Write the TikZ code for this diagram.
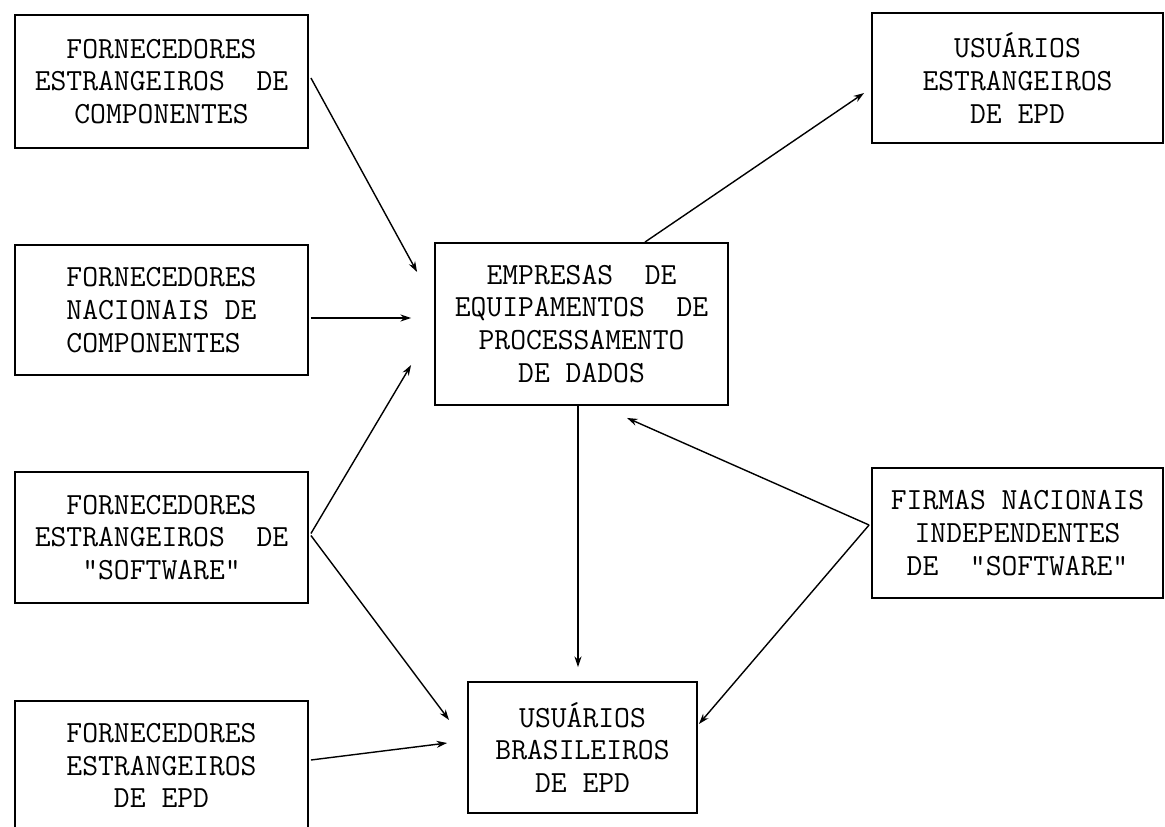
\documentclass[tikz,border=0pt]{standalone}
\usetikzlibrary{arrows.meta,calc}
\begin{document}
\begin{tikzpicture}[x=0.02cm,y=-0.02cm,
  box/.style={draw,line width=1.1pt,inner sep=0pt,align=center,
    font=\ttfamily\fontsize{17.5}{18.7}\selectfont},
  conn/.style={line width=0.8pt,-{Stealth[length=6pt,width=4pt]}}]
\useasboundingbox (0,0) rectangle (1165,827);
\begin{scope}
\clip (0,0) rectangle (1165,827);
\node[box,minimum width=5.86cm,minimum height=2.66cm] (fce) at (161.5,81.5)
  {FORNECEDORES\\ESTRANGEIROS\ \ DE\\COMPONENTES};
\node[box,align=left,minimum width=5.86cm,minimum height=2.6cm] (fnc) at (161.5,310)
  {FORNECEDORES\\NACIONAIS DE\\COMPONENTES};
\node[box,minimum width=5.86cm,minimum height=2.62cm] (fes) at (161.5,537.5)
  {FORNECEDORES\\ESTRANGEIROS\ \ DE\\"SOFTWARE"};
\node[box,minimum width=5.86cm,minimum height=2.58cm] (fep) at (161.5,765.5)
  {FORNECEDORES\\ESTRANGEIROS\\DE EPD};
\node[box,minimum width=5.86cm,minimum height=3.24cm] (emp) at (581.5,324)
  {EMPRESAS\ \ DE\\EQUIPAMENTOS\ \ DE\\PROCESSAMENTO\\DE DADOS};
\node[box,minimum width=5.82cm,minimum height=2.6cm] (ue) at (1017.5,78)
  {USUÁRIOS\\ESTRANGEIROS\\DE EPD};
\node[box,minimum width=5.82cm,minimum height=2.6cm] (fir) at (1017.5,533)
  {FIRMAS NACIONAIS\\INDEPENDENTES\\DE\ \ "SOFTWARE"};
\node[box,minimum width=4.58cm,minimum height=2.62cm] (ub) at (582.5,747.5)
  {USUÁRIOS\\BRASILEIROS\\DE EPD};
\end{scope}
\draw[conn] ($(fce.east)+(2,-3.5)$) -- ($(emp.west)+(-17,-52)$);
\draw[conn] ($(fnc.east)+(2,8)$) -- ($(emp.west)+(-23,-6)$);
\draw[conn] ($(fes.east)+(2,-4)$) -- ($(emp.west)+(-23,41)$);
\draw[conn] ($(fes.east)+(2,-2)$) -- ($(ub.west)+(-18,-27.5)$);
\draw[conn] ($(fep.east)+(2,-5.5)$) -- ($(ub.west)+(-20,-4.5)$);
\draw[conn] ($(emp.south)+(-3.5,0)$) -- ($(ub.north)+(-4.5,-14)$);
\draw[conn] ($(emp.north)+(63.5,0)$) -- ($(ue.west)+(-7,15)$);
\draw[conn] ($(fir.west)+(-2,-8)$) -- ($(emp.south)+(45.5,12)$);
\draw[conn] ($(fir.west)+(-2,-8)$) -- ($(ub.east)+(1,-23.5)$);
\end{tikzpicture}
\end{document}
